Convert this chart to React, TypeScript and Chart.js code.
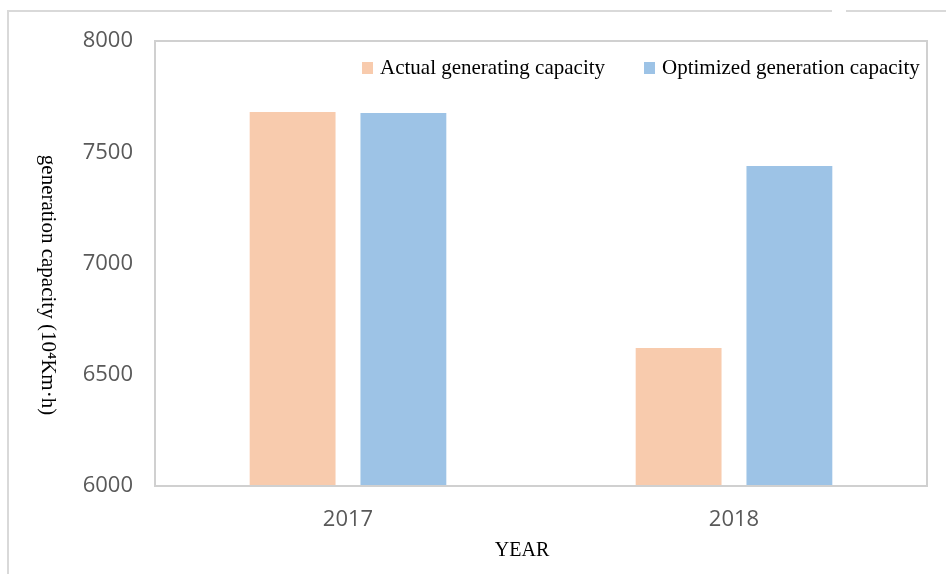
import React, { useEffect, useRef } from "react";
import { Chart, registerables } from "chart.js";

Chart.register(...registerables);

const categories = ["2017", "2018"];
const actualValues = [7681, 6620];
const optimizedValues = [7676, 7438];
const seriesLabels = ["Actual generating capacity", "Optimized generation capacity"];
const seriesColors = ["#F8CBAD", "#9DC3E6"];
const yTitle = "generation capacity (10\u2074Km\u00B7h)";
const xTitle = "YEAR";

const SERIF = "'Liberation Serif', 'Times New Roman', serif";
const SANS = "'Open Sans', sans-serif";

const decorPlugin = {
  id: "decor",
  afterDraw(chart: any) {
    const ctx = chart.ctx;
    const a = chart.chartArea;
    ctx.save();
    // outer frame
    ctx.strokeStyle = "#d9d9d9";
    ctx.lineWidth = 2;
    ctx.beginPath();
    ctx.moveTo(8, 574);
    ctx.lineTo(8, 11);
    ctx.lineTo(832, 11);
    ctx.moveTo(846, 11);
    ctx.lineTo(946, 11);
    ctx.stroke();
    // plot border
    ctx.strokeStyle = "#d0d0d0";
    ctx.lineWidth = 2;
    ctx.strokeRect(a.left, a.top, a.right - a.left, a.bottom - a.top);
    // y title
    ctx.fillStyle = "#000";
    ctx.font = "21px " + SERIF;
    ctx.textAlign = "center";
    ctx.textBaseline = "middle";
    ctx.save();
    ctx.translate(48, 285);
    ctx.rotate(Math.PI / 2);
    ctx.fillText(yTitle, 0, 0);
    ctx.restore();
    // x title
    ctx.font = "20px " + SERIF;
    ctx.fillText(xTitle, 522, 551);
    // legend
    ctx.font = "21px " + SERIF;
    const ds = chart.data.datasets;
    const boxX = [362, 644];
    ctx.textAlign = "left";
    ds.forEach((d: any, i: number) => {
      ctx.fillStyle = d.backgroundColor;
      ctx.fillRect(boxX[i], 62, 11, 12);
      ctx.fillStyle = "#000";
      ctx.fillText(d.label, boxX[i] + 18, 68);
    });
    ctx.restore();
  },
};

export default function App() {
  const ref = useRef<HTMLCanvasElement | null>(null);
  useEffect(() => {
    if (!ref.current) return;
    const chart = new Chart(ref.current, {
      type: "bar",
      data: {
        labels: categories,
        datasets: [
          { label: seriesLabels[0], data: actualValues, backgroundColor: seriesColors[0], borderWidth: 0 },
          { label: seriesLabels[1], data: optimizedValues, backgroundColor: seriesColors[1], borderWidth: 0 },
        ],
      },
      options: {
        animation: false,
        responsive: true,
        maintainAspectRatio: false,
        layout: { padding: { top: 41, right: 19, left: 0, bottom: 0 } },
        datasets: { bar: { categoryPercentage: 0.574, barPercentage: 0.775 } },
        plugins: { legend: { display: false }, tooltip: { enabled: false } },
        scales: {
          x: {
            grid: { display: false, drawTicks: false },
            border: { display: false },
            ticks: { color: "#595959", font: { family: SANS, size: 22 }, padding: 21 },
            afterFit(s: any) { s.height = 88; },
          },
          y: {
            min: 6000,
            max: 8000,
            grid: { display: false, drawTicks: false },
            border: { display: false },
            ticks: {
              stepSize: 500,
              color: "#595959",
              font: { family: SANS, size: 22 },
              padding: 22,
              callback: (v: any) => String(v),
            },
            afterFit(s: any) { s.width = 155; },
          },
        },
      } as any,
      plugins: [decorPlugin],
    });
    return () => chart.destroy();
  }, []);
  return (
    <div style={{ position: "fixed", left: 0, top: 0, width: 946, height: 574, background: "#fff" }}>
      <canvas ref={ref} />
    </div>
  );
}
